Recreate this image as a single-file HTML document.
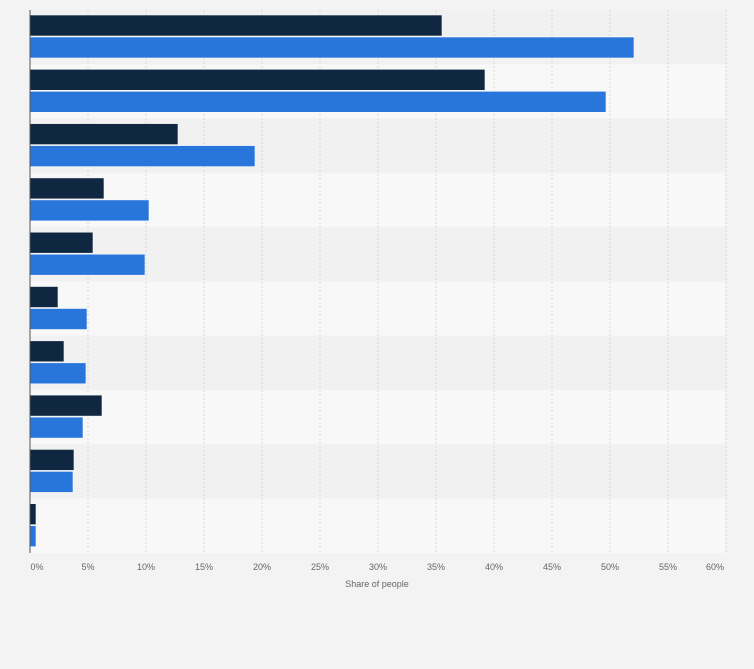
<!DOCTYPE html>
<html><head><style>body{margin:0;background:#f3f3f3}svg{display:block}</style></head><body>
<svg width="754" height="669" xmlns="http://www.w3.org/2000/svg" font-family="Liberation Sans, sans-serif">
<rect width="754" height="669" fill="#f3f3f3"/>
<g id="bands"></g>
<g id="grid" stroke="#d6d6d6" stroke-dasharray="2,2"></g>
<g id="bars"></g>
<line x1="30" y1="10" x2="30" y2="553" stroke="#555" stroke-width="1"/>
<g id="ticks" font-size="9" fill="#666" text-anchor="middle"></g>
<text x="377" y="587" font-size="9" fill="#666" text-anchor="middle">Share of people</text>
<script>
var ns="http://www.w3.org/2000/svg";
function el(p,t,a,txt){var e=document.createElementNS(ns,t);for(var k in a)e.setAttribute(k,a[k]);if(txt)e.textContent=txt;document.getElementById(p).appendChild(e);}
var dark=[442,485,178,104,93,58,64,102,74,36],blue=[634,606,255,149,145,87,86,83,73,36];
for(var i=0;i<10;i++){var y=10+i*54.3;
el('bands','rect',{x:30,y:y,width:696,height:54.3,fill:i%2?'#f8f8f8':'#f1f1f1'});
el('bars','rect',{x:30,y:y+5,width:dark[i]-30,height:21,fill:'#0f2740',stroke:'#f8f8f8','stroke-width':0.6});
el('bars','rect',{x:30,y:y+27,width:blue[i]-30,height:21,fill:'#2876dc',stroke:'#f8f8f8','stroke-width':0.6});}
for(var j=1;j<=12;j++){var x=30+j*5*11.6;el('grid','line',{x1:x,y1:10,x2:x,y2:553});}
for(var j=0;j<=12;j++){var x=30+j*5*11.6;if(j==0)x=37;if(j==12)x=715;el('ticks','text',{x:x,y:570},(j*5)+'%');}
</script>
</svg>
</body></html>
